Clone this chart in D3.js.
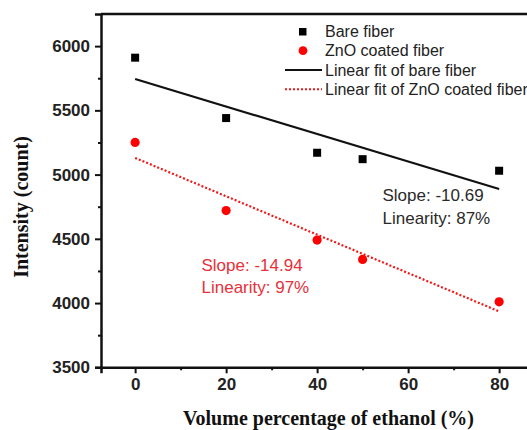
<!DOCTYPE html>
<html>
<head>
<meta charset="utf-8">
<script src="https://cdn.jsdelivr.net/npm/d3@7"></script>
<style>
html,body{margin:0;padding:0;background:#fff;}
svg{display:block;}
</style>
</head>
<body>
<svg id="chart" width="527" height="430"></svg>
<script>
// ---- data ----
const ethanol = [0, 20, 40, 50, 80];
const bareFiber = [5910, 5440, 5170, 5120, 5030];
const znoFiber = [5250, 4720, 4490, 4340, 4010];
const bareFit = [[0, 5744], [80, 4888]];
const znoFit = [[0, 5130], [80, 3935]];
const xTicks = [0, 20, 40, 60, 80];
const yTicks = [3500, 4000, 4500, 5000, 5500, 6000];
const legendLabels = ["Bare fiber", "ZnO coated fiber", "Linear fit of bare fiber", "Linear fit of ZnO coated fiber"];
const bareNote = ["Slope: -10.69", "Linearity: 87%"];
const znoNote = ["Slope: -14.94", "Linearity: 97%"];

const svg = d3.select("#chart");
const L = 101, R = 556, T = 14, B = 367.3;
const x = d3.scaleLinear().domain([-7.5, 92.5]).range([L, R]);
const y = d3.scaleLinear().domain([3500, 6250]).range([B, T]);

const sans = "'Liberation Sans', Arial, sans-serif";
const serif = "'Liberation Serif', 'Times New Roman', serif";

// top border
svg.append("line").attr("x1", L).attr("x2", R).attr("y1", T).attr("y2", T)
  .attr("stroke", "#111").attr("stroke-width", 2.5);

// y axis
const yAxis = d3.axisLeft(y).tickValues(yTicks).tickSize(6).tickPadding(5).tickFormat(d3.format("d"));
const gy = svg.append("g").attr("transform", `translate(${L},0)`).call(yAxis);
gy.select(".domain").attr("stroke", "#111").attr("stroke-width", 2.5);
gy.selectAll(".tick line").attr("stroke", "#111").attr("stroke-width", 2);
gy.selectAll(".tick text").attr("font-family", sans).attr("font-weight", "bold").attr("font-size", "17px").attr("fill", "#222");
const yMinor = d3.axisLeft(y).tickValues(d3.range(3750, 6250, 500)).tickSize(3).tickFormat("");
const gym = svg.append("g").attr("transform", `translate(${L},0)`).call(yMinor);
gym.select(".domain").remove();
gym.selectAll(".tick line").attr("stroke", "#111").attr("stroke-width", 2);

// x axis
const xAxis = d3.axisBottom(x).tickValues(xTicks).tickSize(6).tickPadding(5).tickFormat(d3.format("d"));
const gx = svg.append("g").attr("transform", `translate(0,${B})`).call(xAxis);
gx.select(".domain").attr("stroke", "#111").attr("stroke-width", 2.5);
gx.selectAll(".tick line").attr("stroke", "#111").attr("stroke-width", 2);
gx.selectAll(".tick text").attr("font-family", sans).attr("font-weight", "bold").attr("font-size", "17px").attr("fill", "#222");
const xMinor = d3.axisBottom(x).tickValues([10, 30, 50, 70, 90]).tickSize(3).tickFormat("");
const gxm = svg.append("g").attr("transform", `translate(0,${B})`).call(xMinor);
gxm.select(".domain").remove();
gxm.selectAll(".tick line").attr("stroke", "#111").attr("stroke-width", 2);

// axis titles
svg.append("text").attr("x", (L + R) / 2).attr("y", 425).attr("text-anchor", "middle")
  .attr("font-family", serif).attr("font-weight", "bold").attr("font-size", "20px").attr("fill", "#111")
  .text("Volume percentage of ethanol (%)");
svg.append("text").attr("transform", "translate(28,207) rotate(-90)").attr("text-anchor", "middle")
  .attr("font-family", serif).attr("font-weight", "bold").attr("font-size", "20px").attr("fill", "#111")
  .text("Intensity (count)");

// fit lines
const line = d3.line().x(d => x(d[0])).y(d => y(d[1]));
svg.append("path").attr("d", line(bareFit)).attr("fill", "none").attr("stroke", "#111").attr("stroke-width", 2.2);
svg.append("path").attr("d", line(znoFit)).attr("fill", "none").attr("stroke", "#f01818").attr("stroke-width", 2.2)
  .attr("stroke-dasharray", "2,2");

// points
const bareData = ethanol.map((e, i) => [e, bareFiber[i]]);
const znoData = ethanol.map((e, i) => [e, znoFiber[i]]);
svg.selectAll("rect.bare").data(bareData).enter().append("rect").attr("class", "bare")
  .attr("x", d => x(d[0]) - 4).attr("y", d => y(d[1]) - 4).attr("width", 8).attr("height", 8).attr("fill", "#000");
svg.selectAll("circle.zno").data(znoData).enter().append("circle").attr("class", "zno")
  .attr("cx", d => x(d[0])).attr("cy", d => y(d[1])).attr("r", 4.6).attr("fill", "#ff0000");

// legend
const lg = svg.append("g");
lg.append("rect").attr("x", 299).attr("y", 28).attr("width", 7.5).attr("height", 7.5).attr("fill", "#000");
lg.append("circle").attr("cx", 303).attr("cy", 50.7).attr("r", 4.4).attr("fill", "#ff0000");
lg.append("line").attr("x1", 285).attr("x2", 322).attr("y1", 70).attr("y2", 70).attr("stroke", "#111").attr("stroke-width", 2.2);
lg.append("line").attr("x1", 285).attr("x2", 322).attr("y1", 89.3).attr("y2", 89.3).attr("stroke", "#f01818").attr("stroke-width", 2).attr("stroke-dasharray", "2,2");
const legY = [31.7, 50.7, 70, 89.3];
legendLabels.forEach((t, i) => {
  lg.append("text").attr("x", 325).attr("y", legY[i]).attr("dy", "0.35em")
    .attr("font-family", sans).attr("font-size", "16px").attr("fill", "#222").text(t);
});

// annotations
bareNote.forEach((t, i) => {
  svg.append("text").attr("x", 382.5).attr("y", 195 + i * 23).attr("dy", "0.35em")
    .attr("font-family", sans).attr("font-size", "17px").attr("fill", "#2a2a2a").text(t);
});
znoNote.forEach((t, i) => {
  svg.append("text").attr("x", 201.5).attr("y", 265 + i * 22).attr("dy", "0.35em")
    .attr("font-family", sans).attr("font-size", "17px").attr("fill", "#e8303a").text(t);
});
</script>
</body>
</html>
